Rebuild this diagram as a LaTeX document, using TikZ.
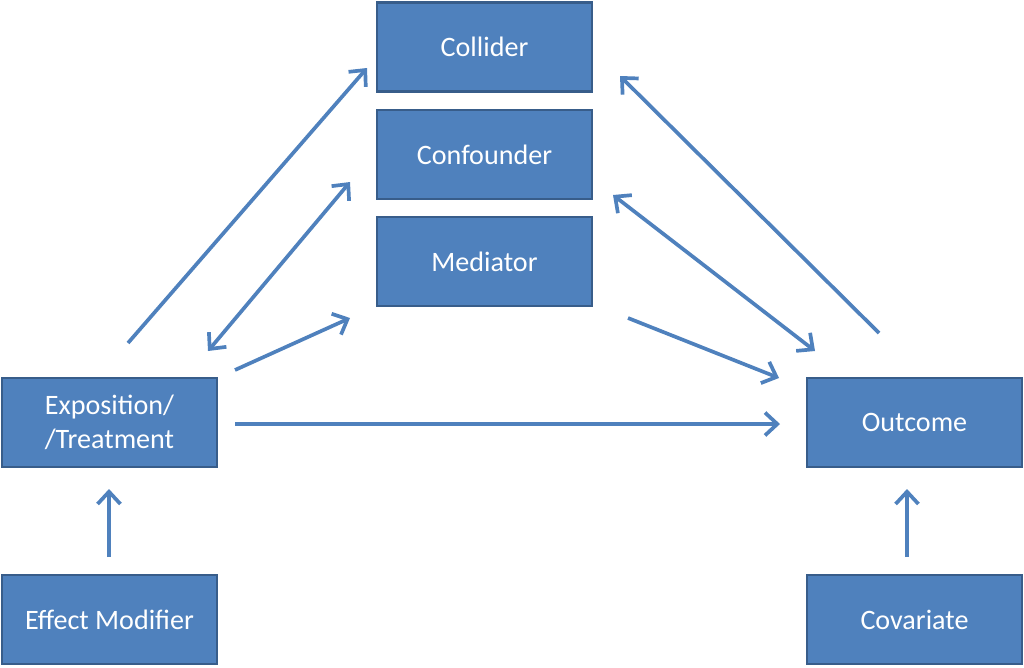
\documentclass[tikz,border=0pt]{standalone}
\usepackage{fontspec}
\setmainfont{Carlito}
\usetikzlibrary{arrows.meta}
\definecolor{boxfill}{HTML}{4F81BD}
\definecolor{boxline}{HTML}{385D8A}
\tikzset{
  box/.style={draw=boxline,line width=1.2pt,fill=boxfill,text=white,
    minimum width=4.3cm,minimum height=1.78cm,align=center,
    font=\fontsize{16}{19}\selectfont},
  arr/.style={draw=boxfill,line width=2.1pt,-{Straight Barb[length=7pt,width=13pt]}},
  darr/.style={arr,{Straight Barb[length=7pt,width=13pt]}-{Straight Barb[length=7pt,width=13pt]}}
}
\begin{document}
\begin{tikzpicture}[x=0.02cm,y=-0.02cm]
        \useasboundingbox (0,0) rectangle (1024,667);
        \node[box] (collider) at (484.5,47) {Collider};
        \node[box] (confounder) at (484.5,154.5) {Confounder};
        \node[box] (mediator) at (484.5,261.5) {Mediator};
        \node[box] (expo) at (109.5,422.5) {Exposition/\\/Treatment};
        \node[box] (outcome) at (914.5,422.5) {Outcome};
        \node[box] (modifier) at (109.5,619.5) {Effect Modifier};
        \node[box] (covariate) at (914.5,619.5) {Covariate};
        % free ends of the arrows
        \coordinate (ecS) at (128,343);  \coordinate (ecE) at (367,68);
        \coordinate (efS) at (208,351);  \coordinate (efE) at (350,182);
        \coordinate (emS) at (235,370);  \coordinate (emE) at (350,318);
        \coordinate (moS) at (628,318);  \coordinate (moE) at (779,378);
        \coordinate (foS) at (613,195);  \coordinate (foE) at (815,351);
        \coordinate (ocS) at (879,333);  \coordinate (ocE) at (620,76);
        \coordinate (eoS) at (235,424);  \coordinate (eoE) at (780,424);
        \coordinate (meS) at (109,557);  \coordinate (meE) at (109,489);
        \coordinate (coS) at (907,557);  \coordinate (coE) at (907,489);
        \draw[arr] (ecS) -- (ecE);
        \draw[darr] (efS) -- (efE);
        \draw[arr] (emS) -- (emE);
        \draw[arr] (moS) -- (moE);
        \draw[darr] (foS) -- (foE);
        \draw[arr] (ocS) -- (ocE);
        \draw[arr] (eoS) -- (eoE);
        \draw[arr] (meS) -- (meE);
        \draw[arr] (coS) -- (coE);
    \end{tikzpicture}
\end{document}
